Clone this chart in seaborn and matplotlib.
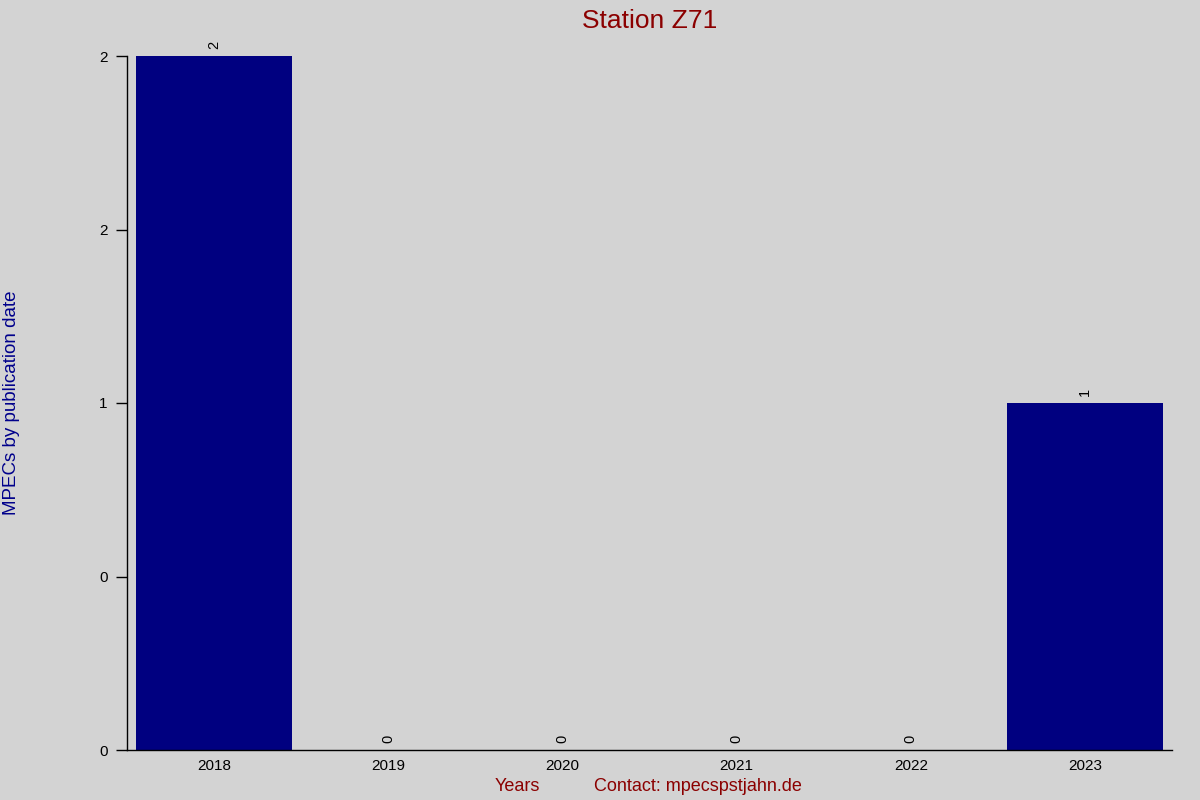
import numpy as np
import seaborn as sns
import matplotlib.pyplot as plt

years = ["2018", "2019", "2020", "2021", "2022", "2023"]
counts = [2, 0, 0, 0, 0, 1]

sns.set_style("white")
plt.rcParams["font.family"] = ["Liberation Sans", "DejaVu Sans"]

fig = plt.figure(figsize=(12, 8), dpi=100, facecolor="#d3d3d3")
ax = fig.add_axes([0.1058, 0.0625, 0.8709, 0.8675])
ax.set_facecolor("#d3d3d3")

sns.barplot(x=years, y=counts, color="#000080", saturation=1, width=0.9, ax=ax)
for p in ax.patches:
    p.set_edgecolor("none")

ax.bar_label(ax.containers[0], labels=[str(c) for c in counts],
             rotation=90, padding=5, fontsize=10.5, color="black")

ax.set_xlim(-0.5, 5.5)
ax.set_ylim(0, 2)
ax.set_yticks(np.arange(0, 2.01, 0.5))
ax.set_yticklabels(["%.0f" % v for v in np.arange(0, 2.01, 0.5)])

for s in ["top", "right"]:
    ax.spines[s].set_visible(False)
for s in ["left", "bottom"]:
    ax.spines[s].set_color("black")
    ax.spines[s].set_linewidth(1)

ax.tick_params(axis="y", left=True, labelsize=11, colors="black",
               length=8, width=1, pad=6)
ax.tick_params(axis="x", bottom=False, labelsize=11, colors="black", pad=3)

ax.set_title("Station Z71", color="#8b0000", fontsize=19, pad=20)
ax.set_ylabel("MPECs by publication date", color="#00008b", fontsize=13.5)
ax.yaxis.set_label_coords(-0.102, 0.5)
fig.text(0.431, 0.011, "Years", color="#8b0000", fontsize=13, ha="center")
fig.text(0.582, 0.011, "Contact: mpecspstjahn.de", color="#8b0000", fontsize=13, ha="center")

fig.savefig("out.png", dpi=100, facecolor=fig.get_facecolor())
